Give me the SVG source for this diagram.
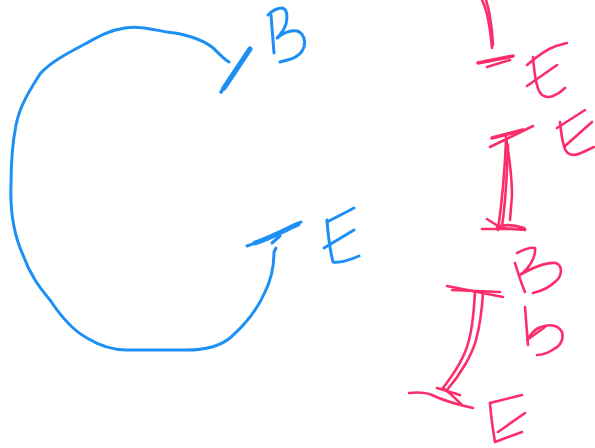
<svg xmlns="http://www.w3.org/2000/svg" width="595" height="448" viewBox="0 0 595 448">
<style>
.b{fill:none;stroke:#1e90f5;stroke-width:3;stroke-linecap:round;stroke-linejoin:round}
.p{fill:none;stroke:#fb2d6b;stroke-width:2.6;stroke-linecap:round;stroke-linejoin:round}
</style>
<rect width="595" height="448" fill="#fff"/>
<g id="connectors">
<path class="b" d="M229,62 C222,58 218,52 212,47 C200,38 180,33 167,32 C150,29 140,26 125,28 C110,30 98,37 85,44 C70,52 50,62 40,74 C30,90 20,105 16,125 C12,145 11,165 11,185 C10,210 14,235 23,255 C30,275 40,288 50,300 C60,315 72,330 87,338 C100,346 112,350 127,350 L187,350 C205,350 220,346 230,338 C245,325 258,308 265,292 C272,278 274,265 274,252 L276,248"/>
<path class="b" d="M221,92 L249,50" style="stroke-width:3.5"/>
<path class="b" d="M224,88 L246,55 L250,49" style="stroke-width:5"/>
<path class="b" d="M247,246 C265,240 285,230 301,222" style="stroke-width:3"/>
<path class="b" d="M255,243 C270,238 285,230 298,224" style="stroke-width:5"/>
<path class="b" d="M272,243 L280,236"/>
<path class="p" d="M482,0 C487,10 490,25 492,48"/>
<path class="p" d="M486,0 C490,12 492,28 493,45"/>
<path class="p" d="M478,63 L513,56" style="stroke-width:3.5"/>
<path class="p" d="M487,67 L510,60"/>
<path class="p" d="M490,147 L533,126"/>
<path class="p" d="M492,138 L523,130" style="stroke-width:3.5"/>
<path class="p" d="M506,137 C509,155 512,175 512,195 L510,220"/>
<path class="p" d="M506,140 C505,165 503,195 498,230"/>
<path class="p" d="M508,145 C507,175 506,200 502,226"/>
<path class="p" d="M482,229 L525,229"/>
<path class="p" d="M487,219 C493,223 498,226 502,228 L525,230"/>
<path class="p" d="M497,227 C505,224 515,225 524,228"/>
<path class="p" d="M447,286 L503,297"/>
<path class="p" d="M452,290 L500,292"/>
<path class="p" d="M475,292 C474,310 473,325 469,340 C465,357 455,372 443,388"/>
<path class="p" d="M483,293 C482,310 480,325 476,340 C472,355 460,375 447,390"/>
<path class="p" d="M409,393 C418,392 425,392 432,395 C440,399 455,404 473,408"/>
<path class="p" d="M437,388 L460,395"/>
<path class="p" d="M443,388 C450,393 457,400 462,405"/>
</g>
<g id="B1">
<path class="b" d="M271,15 L274,53"/>
<path class="b" d="M268,15 C272,11 277,8 282,8 C287,9 288,16 286,24 C284,30 281,34 277,38 C283,33 290,30 297,31 C303,33 306,40 304,47 C302,53 297,57 291,59 L280,62"/>
</g>
<g id="E1">
<path class="b" d="M327,220 C328,235 330,250 333,262 C340,263 350,260 359,256"/>
<path class="b" d="M327,222 L354,208"/>
<path class="b" d="M324,248 L354,230"/>
</g>
<g id="E2">
<path class="p" d="M533,57 C534,70 535,82 539,91 C542,97 548,98 553,96 C558,94 562,91 565,88"/>
<path class="p" d="M527,65 C535,58 545,50 556,46 L567,43"/>
<path class="p" d="M527,86 L557,65"/>
</g>
<g id="E3">
<path class="p" d="M560,122 C561,132 562,142 565,149 C568,156 575,156 581,153 L594,147"/>
<path class="p" d="M557,128 L585,110"/>
<path class="p" d="M565,146 L592,122"/>
</g>
<g id="B2">
<path class="p" d="M515,263 C518,273 521,283 525,292"/>
<path class="p" d="M517,253 C523,250 530,247 535,248 C536,256 530,268 520,275 C532,268 545,262 556,263 C563,266 562,276 556,281 C550,287 542,291 533,293"/>
</g>
<g id="B3">
<path class="p" d="M525,307 L528,345"/>
<path class="p" d="M528,338 C533,332 536,328 541,327 C550,324 558,325 562,332 C564,340 560,346 554,349 C548,353 542,355 537,355"/>
<path class="p" d="M527,340 L545,327"/>
</g>
<g id="E4">
<path class="p" d="M490,403 C491,418 493,430 495,442 L522,432"/>
<path class="p" d="M490,403 L522,395"/>
<path class="p" d="M498,432 L525,413"/>
</g>
</svg>
